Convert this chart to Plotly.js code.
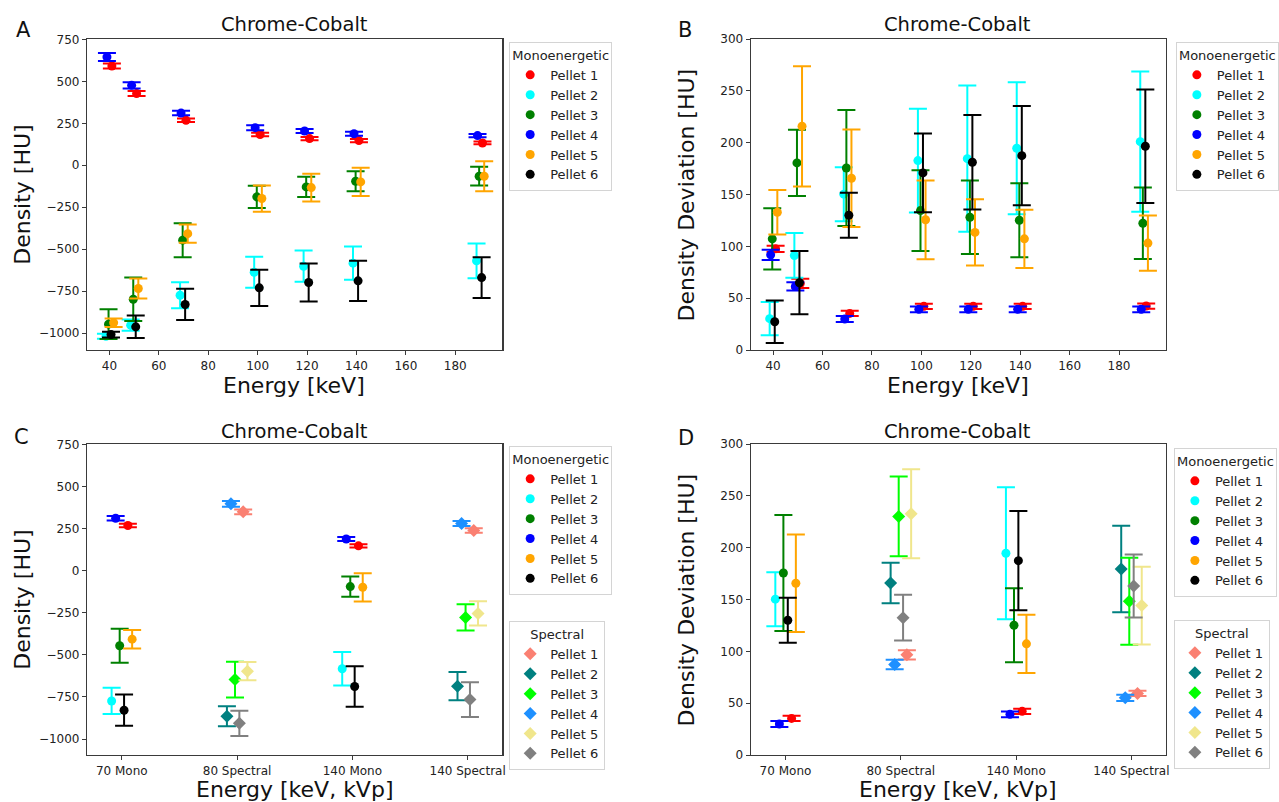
<!DOCTYPE html>
<html><head><meta charset="utf-8">
<script src="https://cdn.plot.ly/plotly-3.0.1.min.js"></script>
<style>html,body{margin:0;padding:0;background:#fff;} #chart{width:1279px;height:802px;}</style>
</head><body><div id="chart"></div>
<script>
// ---------------- DATA ----------------
const energies = [40, 50, 70, 100, 120, 140, 190];
const pelletNames = ['Pellet 1', 'Pellet 2', 'Pellet 3', 'Pellet 4', 'Pellet 5', 'Pellet 6'];

// Monoenergetic density [HU], one row per pellet (1..6), columns = energies
const monoDensity = [
  [591, 427, 268, 183, 159, 147, 133],
  [-1018, -952, -774, -637, -601, -583, -569],
  [-946, -798, -446, -188, -129, -95, -65],
  [645, 476, 311, 224, 204, 188, 177],
  [-938, -734, -407, -198, -133, -99, -65],
  [-1008, -962, -829, -730, -698, -688, -669]
];
const monoDensityErr = [
  [15, 15, 10, 10, 10, 10, 8],
  [15, 33, 78, 93, 93, 99, 103],
  [88, 130, 101, 66, 60, 60, 56],
  [24, 19, 13, 15, 12, 12, 10],
  [25, 60, 55, 78, 82, 84, 89],
  [17, 67, 93, 108, 113, 120, 121]
];
// Monoenergetic density deviation [HU]
const monoDeviation = [
  [97.6, 64.2, 35.3, 42.1, 42.1, 42.1, 42.4],
  [30.2, 91.2, 150.3, 182.7, 184.6, 194.6, 201],
  [107.2, 180.5, 175.6, 134.5, 128.1, 125.2, 122.3],
  [91.8, 61.3, 29.9, 39.2, 39.2, 39.2, 39.2],
  [132.9, 215.8, 165.7, 125.6, 113.4, 107.2, 103.1],
  [27.3, 64.9, 130, 170.8, 181.1, 187.5, 196.5]
];
const monoDeviationErr = [
  [3, 4.5, 2.5, 2.5, 2.5, 2.5, 2.5],
  [16, 21.6, 26, 50, 70.5, 63.6, 67.6],
  [29.6, 32, 56, 39, 35.5, 35.7, 34.5],
  [5, 4, 3, 2.7, 2.7, 2.7, 2.7],
  [21.5, 58, 47, 38, 32, 28, 26.6],
  [20.5, 30.5, 21.7, 38, 45.6, 47.8, 54.8]
];

const categories = ['70 Mono', '80 Spectral', '140 Mono', '140 Spectral'];
const monoCategories = ['70 Mono', '140 Mono'];
const monoCategoryEnergies = [70, 140];
const spectralCategories = ['80 Spectral', '140 Spectral'];

// Spectral (80 kVp, 140 kVp), one row per pellet
const spectralDensity = [
  [349, 238],
  [-865, -686],
  [-647, -278],
  [397, 280],
  [-597, -254],
  [-907, -766]
];
const spectralDensityErr = [
  [14, 13],
  [59, 84],
  [106, 78],
  [17, 15],
  [54, 72],
  [75, 103]
];
const spectralDeviation = [
  [96.6, 59.4],
  [165.9, 179.4],
  [230.1, 148.3],
  [87.3, 55.2],
  [232.7, 144.1],
  [132.5, 163]
];
const spectralDeviationErr = [
  [4.5, 2.5],
  [19.6, 41.7],
  [38.5, 42],
  [4.5, 3],
  [43, 37.4],
  [22, 30.3]
];

// ---------------- STYLE ----------------
const monoColors = ['red', 'cyan', 'green', 'blue', 'orange', 'black'];
const spectralColors = ['salmon', 'teal', 'lime', 'dodgerblue', 'khaki', 'grey'];
const energyJitter = [1.0, -1.4, -0.35, -1.0, 1.7, 0.65];       // keV dodge per pellet
const categoryJitter = [0.053, -0.088, -0.018, -0.053, 0.09, 0.02]; // category dodge per pellet

const W = 1279, H = 802;
const FONT = 'DejaVu Sans, Liberation Sans, sans-serif';
const px = x => x / W;
const py = y => 1 - y / H;

function trace(x, y, err, color, symbol, name, xa, ya, legend) {
  return {
    type: 'scatter', mode: 'markers', x: x, y: y, name: name,
    xaxis: xa, yaxis: ya, legend: legend,
    marker: {color: color, size: symbol === 'diamond' ? 10 : 9, symbol: symbol, line: {width: 0}},
    error_y: {type: 'data', array: err, visible: true, color: color, thickness: 2, width: 9},
    cliponaxis: false
  };
}

const traces = [];
// Panel A
pelletNames.forEach((n, i) => {
  traces.push(trace(energies.map(e => e + energyJitter[i]), monoDensity[i], monoDensityErr[i],
    monoColors[i], 'circle', n, 'x', 'y', 'legend'));
});
// Panel B
pelletNames.forEach((n, i) => {
  traces.push(trace(energies.map(e => e + energyJitter[i]), monoDeviation[i], monoDeviationErr[i],
    monoColors[i], 'circle', n, 'x2', 'y2', 'legend2'));
});
const monoIdx = monoCategoryEnergies.map(e => energies.indexOf(e));
const monoCatPos = monoCategories.map(c => categories.indexOf(c));
const specCatPos = spectralCategories.map(c => categories.indexOf(c));
// Panel C
pelletNames.forEach((n, i) => {
  traces.push(trace(monoCatPos.map(p => p + categoryJitter[i]), monoIdx.map(k => monoDensity[i][k]),
    monoIdx.map(k => monoDensityErr[i][k]), monoColors[i], 'circle', n, 'x3', 'y3', 'legend3'));
});
pelletNames.forEach((n, i) => {
  traces.push(trace(specCatPos.map(p => p + categoryJitter[i]), spectralDensity[i], spectralDensityErr[i],
    spectralColors[i], 'diamond', n, 'x3', 'y3', 'legend4'));
});
// Panel D
pelletNames.forEach((n, i) => {
  traces.push(trace(monoCatPos.map(p => p + categoryJitter[i]), monoIdx.map(k => monoDeviation[i][k]),
    monoIdx.map(k => monoDeviationErr[i][k]), monoColors[i], 'circle', n, 'x4', 'y4', 'legend5'));
});
pelletNames.forEach((n, i) => {
  traces.push(trace(specCatPos.map(p => p + categoryJitter[i]), spectralDeviation[i], spectralDeviationErr[i],
    spectralColors[i], 'diamond', n, 'x4', 'y4', 'legend6'));
});

const axBase = {
  showline: true, mirror: true, linecolor: '#3a3a3a', linewidth: 1.3,
  ticks: 'outside', ticklen: 4, tickwidth: 1, tickcolor: '#3a3a3a',
  showgrid: false, zeroline: false,
  tickfont: {family: FONT, size: 12, color: '#222'}
};
const leftX = [px(88), px(507)], rightX = [px(758), px(1177)];
const topY = [py(350), py(39)], botY = [py(755), py(444)];

function legendCfg(title, x, ytop) {
  return {
    x: px(x), y: py(ytop), xanchor: 'left', yanchor: 'top',
    bgcolor: 'rgba(255,255,255,0.9)', bordercolor: '#d4d4d4', borderwidth: 1,
    font: {family: FONT, size: 13, color: '#222'},
    title: {text: title, side: 'top center', font: {family: FONT, size: 13, color: '#222'}},
    tracegroupgap: 0, itemsizing: 'trace'
  };
}

function ann(text, x, y, size, angle) {
  return {text: text, x: px(x), y: py(y), xref: 'paper', yref: 'paper', showarrow: false,
    xanchor: 'center', yanchor: 'middle', textangle: angle || 0,
    font: {family: FONT, size: size, color: '#111'}};
}

const layout = {
  width: W, height: H, margin: {l: 0, r: 0, t: 0, b: 0},
  paper_bgcolor: '#fff', plot_bgcolor: '#fff',
  font: {family: FONT, color: '#222'},
  xaxis: Object.assign({}, axBase, {domain: leftX, anchor: 'y', range: [31, 199], dtick: 20, tick0: 0}),
  yaxis: Object.assign({}, axBase, {domain: topY, anchor: 'x', range: [-1100, 752], dtick: 250, tick0: 0}),
  xaxis2: Object.assign({}, axBase, {domain: rightX, anchor: 'y2', range: [31, 199], dtick: 20, tick0: 0}),
  yaxis2: Object.assign({}, axBase, {domain: topY, anchor: 'x2', range: [0, 300], dtick: 50}),
  xaxis3: Object.assign({}, axBase, {domain: leftX, anchor: 'y3', range: [-0.3, 3.3],
    tickmode: 'array', tickvals: categories.map((c, i) => i), ticktext: categories}),
  yaxis3: Object.assign({}, axBase, {domain: botY, anchor: 'x3', range: [-1095, 752], dtick: 250, tick0: 0}),
  xaxis4: Object.assign({}, axBase, {domain: rightX, anchor: 'y4', range: [-0.3, 3.3],
    tickmode: 'array', tickvals: categories.map((c, i) => i), ticktext: categories}),
  yaxis4: Object.assign({}, axBase, {domain: botY, anchor: 'x4', range: [0, 300], dtick: 50}),
  legend: legendCfg('Monoenergetic', 514, 42),
  legend2: legendCfg('Monoenergetic', 1187, 42),
  legend3: legendCfg('Monoenergetic', 514, 446),
  legend4: legendCfg('Spectral', 514, 621),
  legend5: legendCfg('Monoenergetic', 1185, 448),
  legend6: legendCfg('Spectral', 1185, 620),
  showlegend: true,
  annotations: [
    ann('A', 24, 30, 21), ann('B', 691, 30, 21), ann('C', 22, 437, 21), ann('D', 692, 438, 21),
    ann('Chrome-Cobalt', 297, 24, 19.5), ann('Chrome-Cobalt', 967, 24, 19.5),
    ann('Chrome-Cobalt', 297, 431, 19.5), ann('Chrome-Cobalt', 967, 431, 19.5),
    ann('Energy [keV]', 297, 385, 22), ann('Energy [keV]', 967, 385, 22),
    ann('Energy [keV, kVp]', 297, 789, 22), ann('Energy [keV, kVp]', 967, 789, 22),
    ann('Density [HU]', 22, 195, 22, -90), ann('Density Deviation [HU]', 693, 195, 22, -90),
    ann('Density [HU]', 22, 600, 22, -90), ann('Density Deviation [HU]', 693, 600, 22, -90)
  ]
};

Plotly.newPlot('chart', traces, layout, {displayModeBar: false, staticPlot: true});
</script>
</body></html>
